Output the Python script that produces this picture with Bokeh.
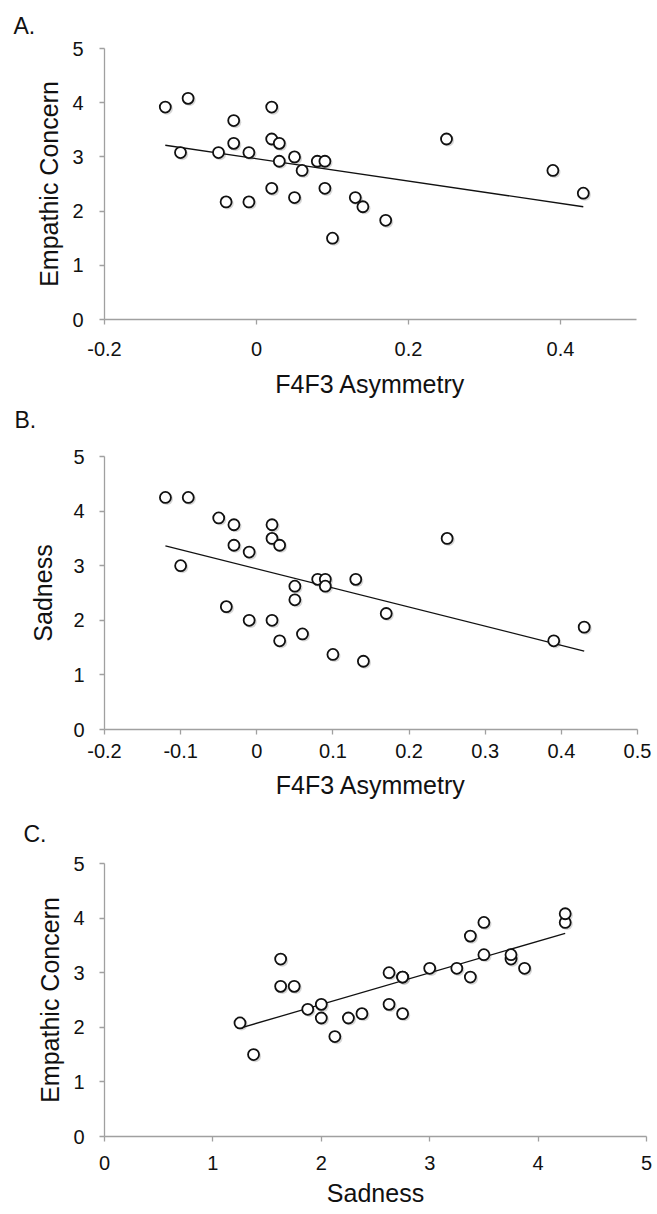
from bokeh.plotting import figure
from bokeh.models import FixedTicker, Range1d, Title
from bokeh.layouts import column
from bokeh.transform import dodge
from bokeh.embed import file_html
from bokeh.resources import INLINE
import numpy as np

# ---- data (one entry per participant) ----
asymmetry = [-0.12, -0.09, -0.10, -0.05, -0.03, -0.03, -0.04, -0.01, -0.01,
             0.02, 0.02, 0.02, 0.03, 0.03, 0.05, 0.05, 0.06, 0.08, 0.09, 0.09,
             0.10, 0.13, 0.14, 0.17, 0.25, 0.39, 0.43]
empathic = [3.92, 4.08, 3.08, 3.08, 3.67, 3.25, 2.17, 3.08, 2.17,
            3.92, 3.33, 2.42, 3.25, 2.92, 3.00, 2.25, 2.75, 2.92, 2.92, 2.42,
            1.50, 2.25, 2.08, 1.83, 3.33, 2.75, 2.33]
sadness = [4.25, 4.25, 3.00, 3.875, 3.375, 3.75, 2.25, 3.25, 2.00,
           3.50, 3.75, 2.00, 1.625, 3.375, 2.625, 2.375, 1.75, 2.75, 2.75, 2.625,
           1.375, 2.75, 1.25, 2.125, 3.50, 1.625, 1.875]

y_ticks = [0, 1, 2, 3, 4, 5]
y_tick_labels = ["0", "1", "2", "3", "4", "5"]
xa_ticks = [-0.2, 0.0, 0.2, 0.4]
xa_tick_labels = ["-0.2", "0", "0.2", "0.4"]
xb_ticks = [-0.2, -0.1, 0.0, 0.1, 0.2, 0.3, 0.4, 0.5]
xb_tick_labels = ["-0.2", "-0.1", "0", "0.1", "0.2", "0.3", "0.4", "0.5"]
xc_ticks = [0, 1, 2, 3, 4, 5]
xc_tick_labels = ["0", "1", "2", "3", "4", "5"]

FONT = "Liberation Sans"
AXIS_COLOR = "#a0a0a0"


def style_tag(t, text, offset, standoff):
    t.text = text
    t.align = "left"
    t.offset = offset
    t.standoff = standoff
    t.text_font = FONT
    t.text_font_size = "23px"
    t.text_font_style = "normal"
    t.text_color = "#111111"
    return t


def panel(xs, ys, xr, xticks, xlabels, xtitle, ytitle,
          fw, fh, left, right, top, bottom, x_lab_so, x_title_so,
          y_lab_so, y_title_so):
    p = figure(frame_width=fw, frame_height=fh,
               x_range=Range1d(xr[0], xr[1]), y_range=Range1d(0, 5),
               output_backend="svg", toolbar_location=None,
               min_border_left=left, min_border_right=right,
               min_border_top=top, min_border_bottom=bottom)
    p.grid.visible = False
    p.outline_line_color = None
    p.background_fill_color = "white"
    p.border_fill_color = "white"

    for ax in (p.xaxis[0], p.yaxis[0]):
        ax.axis_line_color = AXIS_COLOR
        ax.axis_line_width = 1.3
        ax.major_tick_line_color = AXIS_COLOR
        ax.major_tick_line_width = 1.3
        ax.major_tick_out = 5
        ax.major_tick_in = 0
        ax.minor_tick_line_color = None
        ax.major_label_text_font = FONT
        ax.major_label_text_font_size = "20px"
        ax.major_label_text_color = "#111111"
        ax.axis_label_text_font = FONT
        ax.axis_label_text_font_size = "25px"
        ax.axis_label_text_font_style = "normal"
        ax.axis_label_text_color = "#111111"

    p.xaxis.ticker = FixedTicker(ticks=xticks)
    p.xaxis.major_label_overrides = dict(zip(xticks, xlabels))
    p.yaxis.ticker = FixedTicker(ticks=y_ticks)
    p.yaxis.major_label_overrides = dict(zip(y_ticks, y_tick_labels))
    p.xaxis.axis_label = xtitle
    p.yaxis.axis_label = ytitle
    p.xaxis.major_label_standoff = x_lab_so
    p.xaxis.axis_label_standoff = x_title_so
    p.yaxis.major_label_standoff = y_lab_so
    p.yaxis.axis_label_standoff = y_title_so

    src = dict(x=xs, y=ys)
    # soft drop shadow (Excel style) - same data, shifted by a pixel or so
    dx = 1.6 * (xr[1] - xr[0]) / fw
    dy = -1.6 * 5.0 / fh
    p.scatter(x=dodge("x", dx), y=dodge("y", dy), source=src, marker="circle",
              size=12, fill_color="#777777", fill_alpha=0.3, line_color=None)

    # regression line computed from the data
    slope, intercept = np.polyfit(xs, ys, 1)
    lx = [min(xs), max(xs)]
    ly = [slope * v + intercept for v in lx]
    p.line(lx, ly, line_color="#111111", line_width=1.3)

    p.scatter(x="x", y="y", source=src, marker="circle", size=11,
              fill_color="white", line_color="#111111", line_width=1.8)
    return p


pa = panel(asymmetry, empathic, (-0.2, 0.5), xa_ticks, xa_tick_labels,
           "F4F3 Asymmetry", "Empathic Concern",
           fw=532, fh=271, left=104, right=17, top=47, bottom=0,
           x_lab_so=17, x_title_so=11, y_lab_so=16, y_title_so=6)
style_tag(pa.title, "A.", -91, 20)
# tag of the next panel sits in the gap under this one
pa.add_layout(style_tag(Title(), "B.", -90, 8), "below")

pb = panel(asymmetry, sadness, (-0.2, 0.5), xb_ticks, xb_tick_labels,
           "F4F3 Asymmetry", "Sadness",
           fw=533, fh=273, left=96, right=24, top=20, bottom=0,
           x_lab_so=9, x_title_so=10, y_lab_so=15, y_title_so=13)

pc = panel(sadness, empathic, (0, 5), xc_ticks, xc_tick_labels,
           "Sadness", "Empathic Concern",
           fw=542, fh=273, left=96, right=15, top=58, bottom=76,
           x_lab_so=14, x_title_so=6, y_lab_so=15, y_title_so=6)
style_tag(pc.title, "C.", -81, 34)

layout = column(pa, pb, pc, spacing=0)
open("out.html", "w").write(file_html(layout, INLINE))
